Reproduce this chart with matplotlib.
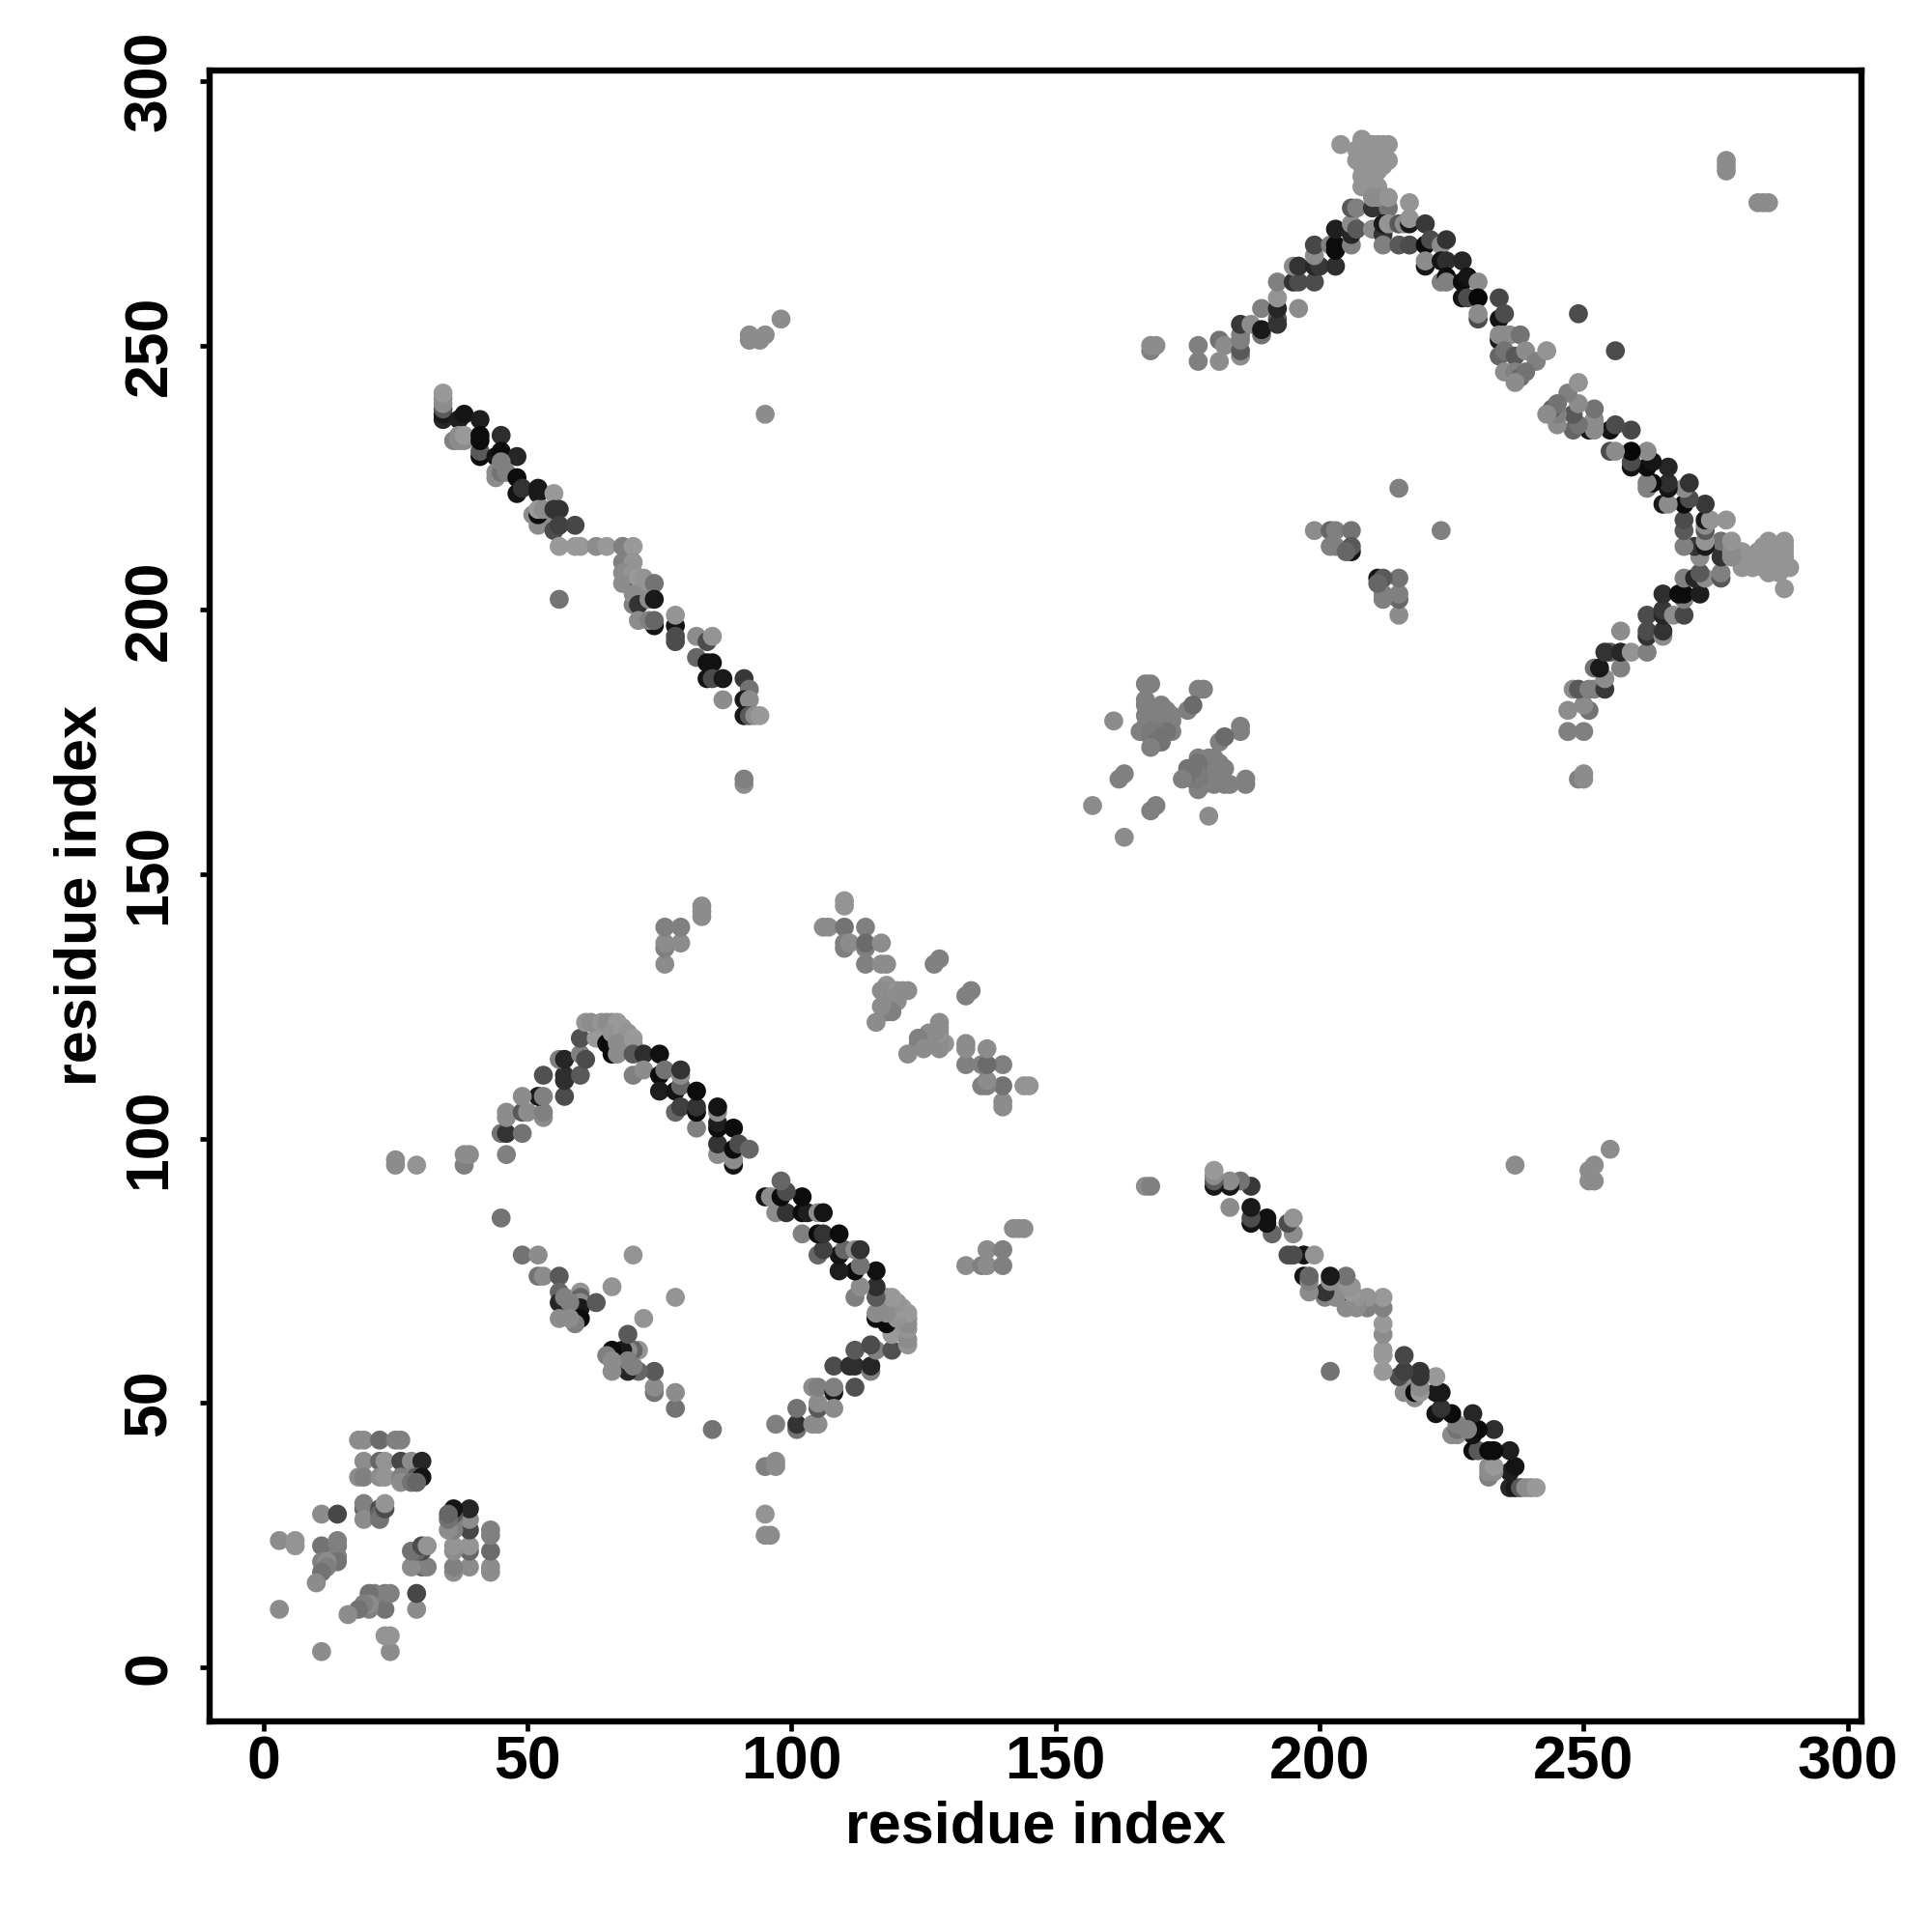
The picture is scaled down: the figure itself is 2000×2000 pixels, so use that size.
import matplotlib
matplotlib.use("Agg")
import matplotlib.pyplot as plt
import numpy as np

plt.rcParams['font.family'] = ['Liberation Sans', 'DejaVu Sans']

cluster_nterm = [
    (3,24,.55),(6,24,.58),(6,23,.58),(3,11,.55),(11,29,.55),(14,29,.28),(11,23,.45),(14,23,.48),
    (14,24,.5),(14,21,.5),(11,20,.5),(14,20,.45),(12,20,.55),(12,19,.5),(11,18,.45),(10,16,.55),
    (18,43,.55),(19,43,.55),(22,43,.42),(25,43,.5),(26,43,.5),
    (19,39,.55),(22,39,.4),(23,39,.58),(26,39,.28),(28,39,.55),(30,39,.15),
    (18,36,.55),(19,36,.5),(22,36,.55),(23,36,.58),(26,36,.5),(28,36,.5),(29,36,.35),(30,36,.08),
    (26,35,.55),(28,35,.45),(29,35,.4),(19,30,.4),(19,31,.5),(19,28,.55),(22,30,.3),(22,29,.4),
    (22,28,.45),(23,30,.3),(23,31,.58),
]
sheet_long = [
    (34,236,.15),(34,237,.1),(34,238,.35),(34,239,.55),(34,240,.55),(34,241,.6),(37,236,.12),
    (38,237,.08),(41,236,.12),(36,232,.5),(37,232,.55),(38,232,.55),(37,233,.55),(38,233,.6),
    (41,229,.05),(41,230,.35),(41,232,.05),(41,233,.05),(45,233,.18),(44,229,.08),(45,230,.05),
    (48,229,.15),(44,225,.55),(44,226,.55),(45,226,.45),(46,226,.5),(45,228,.5),
    (48,225,.05),(48,222,.08),(49,223,.2),(52,222,.1),(52,223,.1),(55,222,.6),
    (51,218,.55),(52,216,.55),(53,217,.55),(52,218,.05),(52,219,.6),(53,219,.55),(55,219,.2),
    (56,219,.2),(55,215,.3),(56,216,.25),(59,216,.28),(56,212,.6),(59,212,.6),(60,212,.6),
    (63,212,.55),(65,212,.6),(56,202,.45),(68,212,.5),(70,212,.6),(68,209,.5),(70,209,.58),
    (68,207,.55),(69,207,.55),(70,207,.58),(68,205,.55),(70,205,.55),(71,204,.2),(71,206,.6),
    (72,206,.58),(72,204,.58),(74,205,.45),(70,201,.5),(70,203,.55),(71,201,.2),(73,202,.55),
    (74,202,.1),(74,197,.08),(71,198,.55),(73,198,.5),(74,198,.4),(78,197,.08),(78,199,.58),
    (78,194,.3),(78,195,.3),(82,195,.55),(84,194,.3),(85,195,.58),(82,191,.4),(84,190,.07),
    (85,190,.07),(84,187,.08),(85,187,.3),(87,187,.1),(91,187,.22),(92,185,.45),(91,183,.1),
    (92,183,.55),(87,183,.55),(91,180,.1),(92,180,.35),(93,180,.55),(94,180,.6),
]
sheet_short = [
    (25,95,.55),(25,96,.55),(29,95,.58),(38,95,.5),(38,97,.55),(39,97,.55),(46,97,.5),
    (45,101,.45),(46,101,.2),(49,101,.45),(46,104,.55),(46,105,.55),(49,105,.35),(50,105,.55),
    (53,104,.55),(53,105,.5),(52,108,.1),(49,108,.55),(53,108,.5),(57,108,.3),(53,112,.32),
    (57,111,.18),(57,112,.18),(60,112,.35),(56,115,.5),(57,115,.15),(60,116,.5),(61,115,.3),
    (60,119,.32),(61,122,.58),(63,119,.6),(65,118,.05),(66,116,.05),(67,116,.55),
    (62,122,.55),(64,122,.58),(65,122,.55),(66,122,.55),(67,122,.6),(66,120,.58),(68,121,.6),
    (68,120,.6),(69,120,.58),(67,118,.55),(70,118,.55),(70,119,.6),(70,116,.35),(72,116,.18),
    (75,116,.07),(70,112,.5),(72,113,.55),(75,112,.05),(76,113,.45),(75,109,.12),(78,109,.08),
    (78,105,.4),(79,106,.25),(79,110,.4),(79,112,.55),(79,113,.2),(82,102,.5),(82,105,.05),
    (82,106,.2),(82,109,.05),(86,97,.55),(86,99,.2),(86,102,.05),(86,103,.12),(86,105,.55),
    (86,106,.08),(89,95,.08),(89,96,.55),(89,98,.05),(89,102,.05),(90,99,.3),(92,98,.4),
]
arm_lower = [
    (45,85,.45),(49,78,.45),(52,78,.55),(52,74,.45),(53,74,.55),(56,74,.35),(56,71,.4),(56,69,.15),
    (57,70,.5),(60,71,.58),(60,70,.4),(60,69,.55),(60,68,.1),(60,66,.05),(58,69,.5),(59,65,.5),
    (56,66,.55),(58,66,.55),(63,69,.35),(66,72,.58),(70,78,.58),
]
scattered = [
    (76,133,.55),(76,136,.5),(76,137,.55),(76,140,.5),(79,137,.55),(79,140,.5),(83,142,.55),
    (83,143,.55),(83,144,.55),(91,167,.55),(91,168,.5),(92,251,.55),(92,252,.55),(94,251,.55),
    (95,252,.55),(98,255,.55),(95,237,.55),(277,283,.55),(277,284,.55),(277,285,.55),
    (215,223,.5),(249,256,.3),
]
cluster_mid = [
    (110,145,.58),(110,144,.58),(106,140,.55),(107,140,.55),(110,140,.45),(114,140,.5),
    (110,137,.5),(110,136,.5),(111,137,.55),(114,136,.5),(114,137,.42),(117,137,.55),
    (114,133,.5),(117,133,.55),(118,133,.55),(118,129,.58),(117,128,.55),(118,127,.55),
    (118,126,.55),(119,128,.55),(119,127,.55),(120,128,.58),(120,127,.55),(120,126,.55),
    (121,128,.55),(122,128,.55),(119,126,.55),(119,124,.5),(118,124,.5),(117,125,.55),
    (116,122,.55),(127,133,.5),(128,134,.5),
]
cluster_turn = [
    (167,186,.5),(168,186,.5),(167,183,.5),(167,182,.5),(170,182,.5),(161,179,.55),(166,177,.5),
    (167,178,.5),(168,179,.5),(167,180,.5),(168,181,.5),(169,180,.5),(171,181,.5),(172,180,.5),
    (170,179,.5),(172,179,.5),(171,178,.5),(170,178,.5),(169,178,.5),(172,177,.5),(171,177,.45),
    (169,177,.48),(168,177,.48),(168,176,.48),(170,176,.45),(170,175,.45),(169,175,.45),(168,174,.5),
    (177,185,.5),(178,185,.5),(175,181,.5),(176,182,.42),(162,168,.5),(163,169,.5),(157,163,.55),
]
cluster_cterm = [
    (199,215,.55),(202,215,.4),(203,215,.5),(206,215,.45),(202,212,.5),(203,212,.5),
    (206,211,.08),(206,212,.35),(205,211,.4),
]
hairpin_up = [
    (168,249,.5),(168,250,.55),(169,250,.55),(177,250,.5),(177,247,.5),(181,251,.45),(182,250,.55),
    (181,247,.55),(185,248,.55),(185,249,.35),(185,251,.5),(185,252,.5),(185,254,.22),(187,254,.55),
    (189,257,.5),(189,252,.45),(189,253,.1),(192,255,.35),(192,254,.2),(192,257,.15),(192,259,.58),
    (196,257,.55),(192,262,.5),(195,262,.2),(196,262,.3),(199,262,.3),(195,265,.55),(196,265,.2),
    (199,265,.15),(200,265,.22),(203,265,.18),(199,267,.55),(199,269,.28),(202,269,.5),(203,268,.05),
    (203,269,.05),(206,269,.5),(203,272,.12),(206,271,.15),(206,273,.55),(207,272,.35),(210,272,.55),
    (206,276,.35),(207,276,.5),(210,276,.2),(212,276,.2),(213,276,.45),
    (204,288,.58),(208,289,.58),(207,287,.58),(209,288,.58),(210,288,.58),(211,288,.58),(212,288,.58),
    (213,288,.58),(207,285,.58),(208,286,.58),(209,286,.58),(210,285,.58),(211,286,.58),(212,286,.58),
    (212,284,.58),(213,285,.58),(208,284,.58),(209,283,.58),(208,282,.58),(210,282,.58),(211,283,.58),
    (209,281,.58),(208,280,.58),(210,280,.58),(211,280,.58),(210,278,.55),(211,278,.55),(213,278,.58),
]
hairpin_down = [
    (212,271,.2),(212,273,.1),(213,273,.58),(212,269,.5),(215,269,.35),(215,273,.35),(216,273,.55),
    (217,269,.3),(217,277,.58),(217,273,.1),(217,274,.58),(220,273,.22),(220,269,.05),(221,270,.3),
    (220,265,.1),(220,266,.55),(223,269,.55),(224,270,.2),(223,266,.08),(224,266,.18),(227,266,.15),
    (223,262,.5),(224,263,.05),(224,262,.5),(227,262,.05),(228,263,.08),(230,262,.55),(227,259,.08),
    (228,259,.3),(230,259,.03),(230,255,.3),(230,256,.55),(234,259,.28),(234,255,.08),(235,256,.3),
    (234,251,.1),(234,252,.55),(235,252,.55),(236,252,.55),(238,252,.45),(234,248,.4),(235,249,.45),
    (237,248,.35),(239,249,.55),(241,247,.5),(243,249,.58),(235,245,.55),(237,245,.5),(238,244,.4),
    (239,245,.45),(237,243,.55),
]

contacts = (cluster_nterm + sheet_long + sheet_short + arm_lower + scattered + cluster_mid
            + cluster_turn + cluster_cterm + hairpin_up + hairpin_down)
res_i = np.array([c[0] for c in contacts])
res_j = np.array([c[1] for c in contacts])
grey = np.array([c[2] for c in contacts])

x_ticks = [0, 50, 100, 150, 200, 250, 300]
y_ticks = [0, 50, 100, 150, 200, 250, 300]

fig = plt.figure(figsize=(20, 20), dpi=100)
ax = fig.add_axes([217/2000, 1-1782/2000, (1927-217)/2000, (1782-73)/2000])

# map is symmetric, so every contact is drawn on both sides of the diagonal
ax.scatter(np.r_[res_i, res_j], np.r_[res_j, res_i], c=np.r_[grey, grey], cmap='gray',
           vmin=0, vmax=1, s=200, linewidths=0, zorder=3)

ax.set_xlim(-10.2, 302.6)
ax.set_ylim(-10.2, 302)
ax.set_xticks(x_ticks)
ax.set_yticks(y_ticks)
ax.tick_params(axis='x', length=7, width=3.4, labelsize=45, pad=3)
ax.tick_params(axis='y', length=7, width=3.4, labelsize=45, pad=16)
for lab in ax.get_xticklabels():
    lab.set_fontweight('bold')
for lab in ax.get_yticklabels():
    lab.set_fontweight('bold')
    lab.set_rotation(90)
    lab.set_va('center')
for s in ax.spines.values():
    s.set_linewidth(4.6)

ax.set_xlabel("residue index", fontsize=44, fontweight='bold', labelpad=6)
ax.set_ylabel("residue index", fontsize=44, fontweight='bold', labelpad=10)

fig.savefig("out.png", dpi=100, facecolor='white')
